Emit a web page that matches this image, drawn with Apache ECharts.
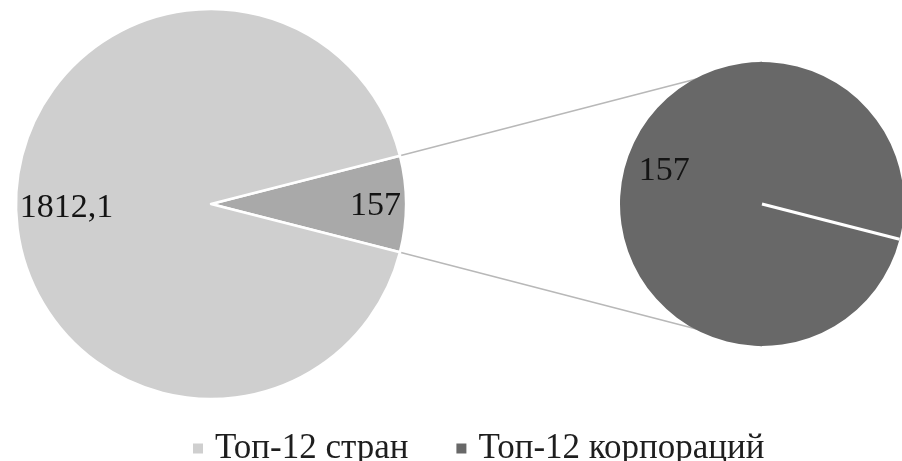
<!DOCTYPE html>
<html>
<head>
<meta charset="utf-8">
<script src="https://cdn.jsdelivr.net/npm/echarts@6/dist/echarts.min.js"></script>
<style>
html,body{margin:0;padding:0;background:#fff;}
#chart{width:902px;height:461px;}
</style>
</head>
<body>
<div id="chart"></div>
<script>
// Data
const categories = ['Топ-12 стран', 'Топ-12 корпораций'];
const mainValues = [1812.1, 157];
const detailNames = ['Топ-12 корпораций'];
const detailValues = [157];

// Layout / style constants
const FONT = 'Liberation Serif';
const C1 = [211, 204], R1 = 195;
const C2 = [762, 204], R2 = 142;
const colorCountries = '#cfcfcf';
const colorOther = '#a9a9a9';
const colorDetail = '#686868';

const total = mainValues[0] + mainValues[1];
const half = mainValues[1] / total * 180; // half-angle of "other" wedge in degrees
const hr = half * Math.PI / 180;

const fmt = p => String(p.value).replace('.', ',');

const labelBase = {
  show: true,
  position: 'inside',
  fontFamily: FONT,
  fontSize: 34,
  color: '#141414',
  formatter: fmt
};

const chart = echarts.init(document.getElementById('chart'), null, {renderer: 'canvas'});

const option = {
  animation: false,
  backgroundColor: '#fff',
  legend: {
    left: 186,
    top: 426,
    itemWidth: 24,
    itemHeight: 12,
    itemGap: 46,
    icon: 'path://M0,0h10v10h-10z',
    textStyle: {fontFamily: FONT, fontSize: 35, color: '#1e1e1e'},
    data: [
      {name: categories[0], itemStyle: {color: colorCountries}},
      {name: categories[1], itemStyle: {color: colorDetail}}
    ]
  },
  graphic: [
    {
      type: 'line', z: 0,
      shape: {x1: C1[0] + R1 * Math.cos(hr), y1: C1[1] - R1 * Math.sin(hr), x2: C2[0], y2: C2[1] - R2},
      style: {stroke: '#b8b8b8', lineWidth: 1.5}
    },
    {
      type: 'line', z: 0,
      shape: {x1: C1[0] + R1 * Math.cos(hr), y1: C1[1] + R1 * Math.sin(hr), x2: C2[0], y2: C2[1] + R2},
      style: {stroke: '#b8b8b8', lineWidth: 1.5}
    },
    {
      type: 'line', z: 100,
      shape: {x1: C2[0], y1: C2[1], x2: C2[0] + R2 * Math.cos(hr), y2: C2[1] + R2 * Math.sin(hr)},
      style: {stroke: '#ffffff', lineWidth: 3}
    }
  ],
  series: [
    {
      type: 'pie',
      center: C1,
      radius: R1,
      startAngle: half,
      clockwise: true,
      z: 2,
      emphasis: {scale: false},
      labelLine: {show: false},
      itemStyle: {borderColor: '#fff', borderWidth: 2.5},
      data: [
        {name: categories[1], value: mainValues[1], itemStyle: {color: colorOther},
         label: Object.assign({}, labelBase, {offset: [64, 2]})},
        {name: categories[0], value: mainValues[0], itemStyle: {color: colorCountries},
         label: Object.assign({}, labelBase, {offset: [-44, 4]})}
      ]
    },
    {
      type: 'pie',
      center: C2,
      radius: R2,
      startAngle: -half,
      clockwise: true,
      z: 2,
      emphasis: {scale: false},
      labelLine: {show: false},
      itemStyle: {borderColor: '#fff', borderWidth: 0},
      data: detailValues.map((v, i) => ({
        name: detailNames[i], value: v, itemStyle: {color: colorDetail},
        label: Object.assign({}, labelBase, {offset: [-26, -15]})
      }))
    }
  ]
};
chart.setOption(option);
</script>
</body>
</html>
